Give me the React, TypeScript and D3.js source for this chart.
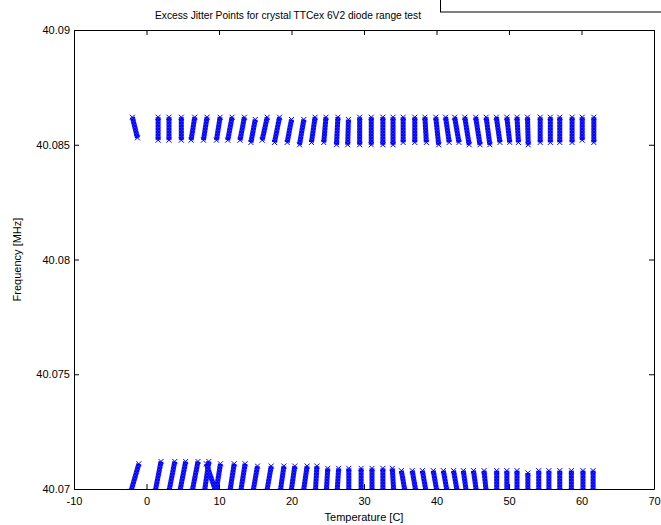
import React, { useEffect, useRef } from 'react';
import * as d3 from 'd3';

// upper band columns (temperature at column centre, lean in degC top-minus-bottom, freq span)
const upperTemps = [-1.6, 1.6, 3.1, 4.8, 6.4, 8.1, 9.9, 11.5, 13.2, 14.7, 16.3, 18.0, 19.7, 21.4, 23.0, 24.6, 26.3, 27.8, 29.4, 31.0, 32.6, 34.0, 35.4, 37.0, 38.5, 40.1, 41.5, 42.8, 44.2, 45.7, 47.1, 48.5, 49.9, 51.2, 52.6, 54.3, 55.7, 57.0, 58.7, 60.1, 61.7];
const upperLean = [-0.7, 0, 0, 0, 0.5, 0.5, 0.5, 0.6, 0.6, 0.6, 0.7, 0.7, 0.6, 0.6, 0.5, 0.3, 0.2, 0.1, 0, 0, 0, 0, 0, 0, -0.2, -0.4, -0.5, -0.6, -0.6, -0.6, -0.5, -0.5, -0.4, -0.2, -0.1, 0, 0, 0, 0, 0, 0];
const upperTop = [40.0862, 40.0862, 40.0862, 40.0862, 40.0862, 40.0862, 40.0862, 40.0862, 40.0862, 40.0861, 40.0862, 40.0862, 40.0861, 40.0861, 40.0862, 40.0862, 40.0862, 40.0861, 40.0862, 40.0862, 40.0862, 40.0862, 40.0862, 40.0862, 40.0862, 40.0862, 40.0862, 40.0862, 40.0862, 40.0862, 40.0862, 40.0862, 40.0862, 40.0862, 40.0862, 40.0862, 40.0862, 40.0862, 40.0862, 40.0862, 40.0862];
const upperBottom = [40.0853, 40.0852, 40.0852, 40.0852, 40.0852, 40.0852, 40.0852, 40.0852, 40.0852, 40.0851, 40.0852, 40.0851, 40.0851, 40.0850, 40.0851, 40.0851, 40.0850, 40.0850, 40.0850, 40.0850, 40.0850, 40.0850, 40.0851, 40.0851, 40.0851, 40.0850, 40.0851, 40.0851, 40.0850, 40.0850, 40.0850, 40.0851, 40.0851, 40.0851, 40.0850, 40.0851, 40.0851, 40.0851, 40.0851, 40.0852, 40.0851];

// lower band columns
const lowerTemps = [-1.6, 1.6, 3.5, 5.0, 6.7, 8.3, 8.9, 9.9, 11.8, 13.3, 15.0, 16.9, 18.7, 20.2, 21.9, 23.4, 24.9, 26.4, 27.9, 29.6, 31.1, 32.6, 34.0, 35.4, 36.9, 38.3, 39.8, 41.2, 42.6, 43.9, 45.3, 46.7, 48.3, 49.7, 51.1, 52.6, 54.1, 55.5, 57.0, 58.6, 60.2, 61.6];
const lowerLean = [1.1, 0.8, 0.8, 0.8, 0.8, 0.6, -1.3, 0.6, 0.6, 0.6, 0.6, 0.6, 0.5, 0.5, 0.5, 0.2, 0.2, 0.2, 0, 0, 0, 0, -0.2, -0.5, -0.5, -0.5, -0.5, -0.5, -0.5, -0.4, -0.4, -0.3, 0, 0, 0, 0, 0, 0, 0, 0, 0, 0];
const lowerTop = [40.0711, 40.0712, 40.0712, 40.0712, 40.0712, 40.0712, 40.0711, 40.0711, 40.0711, 40.0711, 40.0710, 40.0710, 40.0710, 40.0710, 40.0710, 40.0710, 40.0709, 40.0709, 40.0709, 40.0709, 40.0709, 40.0709, 40.0709, 40.0708, 40.0708, 40.0708, 40.0708, 40.0708, 40.0708, 40.0708, 40.0708, 40.0708, 40.0708, 40.0708, 40.0708, 40.0707, 40.0708, 40.0708, 40.0708, 40.0708, 40.0708, 40.0708];
const lowerBottom = 40.0699;

const xTicks = [-10, 0, 10, 20, 30, 40, 50, 60, 70];
const yTicks = [40.07, 40.075, 40.08, 40.085, 40.09];

const title = 'Excess Jitter Points for crystal TTCex 6V2 diode range test';
const xLabel = 'Temperature [C]';
const yLabel = 'Frequency [MHz]';

export default function App() {
  const svgRef = useRef<SVGSVGElement>(null);
  const width = 661;
  const height = 525;

  useEffect(() => {
    const svg = d3.select(svgRef.current);
    svg.selectAll('*').remove();
    const font = '"Liberation Sans", Arial, sans-serif';
    const margin = { top: 30, right: 7, bottom: 36, left: 74 };
    const x = d3.scaleLinear().domain([-10, 70]).range([margin.left, width - margin.right]);
    const y = d3.scaleLinear().domain([40.07, 40.09]).range([height - margin.bottom, margin.top]);
    const blue = '#0000ff';

    const defs = svg.append('defs');
    const pat = defs.append('pattern')
      .attr('id', 'xmark')
      .attr('patternUnits', 'userSpaceOnUse')
      .attr('width', 3)
      .attr('height', 3);
    pat.append('rect').attr('width', 3).attr('height', 3).attr('fill', '#3a3aff');
    pat.append('path')
      .attr('d', 'M0,0L3,3M3,0L0,3')
      .attr('stroke', blue)
      .attr('stroke-width', 1.2);
    defs.append('clipPath').attr('id', 'plotclip')
      .append('rect')
      .attr('x', x(-10)).attr('y', y(40.09))
      .attr('width', x(70) - x(-10)).attr('height', y(40.07) - y(40.09));

    svg.append('rect').attr('width', width).attr('height', height).attr('fill', '#fff');

    // legend box peeking in at the top right
    svg.append('rect')
      .attr('x', 440.5).attr('y', -5).attr('width', 300).attr('height', 17)
      .attr('fill', '#fff').attr('stroke', '#000').attr('stroke-width', 1);

    // axes box
    const yAxisL = d3.axisLeft(y).tickValues(yTicks).tickSizeInner(-5).tickSizeOuter(0)
      .tickFormat((d) => String(+d));
    const yAxisR = d3.axisRight(y).tickValues(yTicks).tickSizeInner(-5).tickSizeOuter(0).tickFormat(() => '');
    const xAxisB = d3.axisBottom(x).tickValues(xTicks).tickSizeInner(-5).tickSizeOuter(0)
      .tickFormat((d) => String(+d));
    const xAxisT = d3.axisTop(x).tickValues(xTicks).tickSizeInner(-5).tickSizeOuter(0).tickFormat(() => '');

    const gl = svg.append('g').attr('transform', `translate(${x(-10)},0)`).call(yAxisL);
    const gr = svg.append('g').attr('transform', `translate(${x(70)},0)`).call(yAxisR);
    const gb = svg.append('g').attr('transform', `translate(0,${y(40.07)})`).call(xAxisB);
    const gt = svg.append('g').attr('transform', `translate(0,${y(40.09)})`).call(xAxisT);
    [gl, gr, gb, gt].forEach((g) => {
      g.selectAll('path').attr('stroke', '#000').attr('stroke-width', 1);
      g.selectAll('line').attr('stroke', '#000');
      g.selectAll('text').attr('font-family', font).attr('font-size', 11).attr('fill', '#000');
    });
    gl.selectAll('text').attr('x', -4);
    gb.selectAll('text').attr('y', 8);

    // jitter point columns
    const line = d3.line<[number, number]>().x((d) => x(d[0])).y((d) => y(d[1]));
    const plot = svg.append('g').attr('clip-path', 'url(#plotclip)');
    const cols: [number, number][][] = [];
    upperTemps.forEach((t, i) => {
      cols.push([[t - upperLean[i] / 2, upperBottom[i]], [t + upperLean[i] / 2, upperTop[i]]]);
    });
    lowerTemps.forEach((t, i) => {
      cols.push([[t - lowerLean[i] / 2, lowerBottom], [t + lowerLean[i] / 2, lowerTop[i]]]);
    });
    plot.selectAll('path.col')
      .data(cols)
      .join('path')
      .attr('class', 'col')
      .attr('d', (d) => line(d))
      .attr('fill', 'none')
      .attr('stroke', 'url(#xmark)')
      .attr('stroke-width', 5);
    // end markers
    const ends = cols.flatMap((c) => c);
    plot.selectAll('path.end')
      .data(ends)
      .join('path')
      .attr('class', 'end')
      .attr('d', (d) => {
        const cx = x(d[0]);
        const cy = y(d[1]);
        return `M${cx - 2.5},${cy - 2.5}L${cx + 2.5},${cy + 2.5}M${cx + 2.5},${cy - 2.5}L${cx - 2.5},${cy + 2.5}`;
      })
      .attr('stroke', blue)
      .attr('stroke-width', 1);

    // texts
    svg.append('text')
      .attr('x', 288).attr('y', 19)
      .attr('text-anchor', 'middle').attr('font-family', font).attr('font-size', 10.2)
      .text(title);
    svg.append('text')
      .attr('x', (x(-10) + x(70)) / 2).attr('y', 521)
      .attr('text-anchor', 'middle').attr('font-family', font).attr('font-size', 11)
      .text(xLabel);
    svg.append('text')
      .attr('transform', `translate(21,${(y(40.07) + y(40.09)) / 2}) rotate(-90)`)
      .attr('text-anchor', 'middle').attr('font-family', font).attr('font-size', 11)
      .text(yLabel);
  }, []);

  return (
    <svg ref={svgRef} width={width} height={height}
      style={{ position: 'absolute', left: 0, top: 0 }} />
  );
}
